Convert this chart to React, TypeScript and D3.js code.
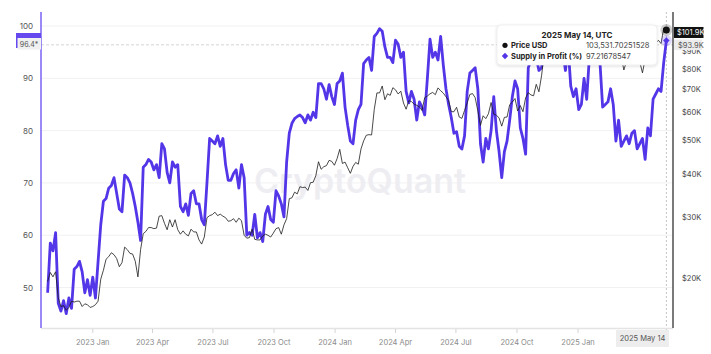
import React from "react";
import * as d3 from "d3";

// series sampled every 4 days starting 2022-10-25, last point 2025-05-14
const START = "2022-10-25";
const STEP_DAYS = 4;

const supplyInProfit = [
  49, 58.5, 57, 60.5, 47, 45.5, 47.5, 45, 48, 46, 53.5, 54, 55, 53, 49, 51.5, 48.5, 52, 48, 55,
  62, 66.5, 67, 69, 69.5, 71, 68, 65, 64.5, 71.5, 71, 70, 68, 65.5, 62.5, 59, 73, 73.5,
  74.5, 74, 72.5, 73.5, 71, 77.5, 76.5, 72, 70, 74, 73, 73.5, 65.5, 64.5, 66, 63.8, 68, 68.5, 66, 66,
  63, 62, 70, 78.5, 78, 77.5, 79, 77, 78.5, 73.5, 70.5, 70.5, 71.8, 72.5, 69, 73.5, 71, 60, 60.5, 60,
  64, 59.5, 60.5, 58.8, 64, 65.5, 63, 62.5, 68.5, 67.5, 66, 63.5, 74, 79.5, 81.4, 82.3, 82.7, 83, 82.5, 81.5,
  83, 82, 83.5, 82.5, 89, 89, 88, 86, 88.8, 86.5, 85, 89, 89.5, 91, 84.5, 81, 78, 77.5, 82, 84,
  85, 92.8, 93.5, 94, 91.5, 98, 98.6, 99.5, 99, 96, 94, 94, 93, 97.3, 96.5, 94, 95, 87.5, 85.3, 87.5,
  86, 82, 85.5, 84.5, 83, 90, 97.5, 94, 95, 93.5, 98, 92.5, 88, 85, 82.5, 79.5, 79.8, 77, 76.5, 79,
  87.5, 91, 91.5, 92, 88, 77.5, 74, 78.5, 76.5, 80, 86.5, 80, 76, 71, 76, 78, 82, 86.5, 89.5, 88,
  80.5, 78.5, 75.5, 92, 93.5, 95, 94, 91.5, 92, 97, 98, 99, 99.5, 99, 98, 97, 95, 91.5, 96,
  88.5, 86.5, 88, 84, 85, 90, 86, 94, 97, 98, 97, 93, 84.5, 85, 85.5, 88, 85, 78, 82, 77,
  78, 79, 77.5, 79.5, 80, 76.5, 77.5, 78.5, 74.5, 80.5, 79, 86, 87, 88, 87.5, 93, 97.2,
];

// BTC price in thousands of USD, same dates
const priceUsdK = [
  19.6, 20.8, 20.2, 20.9, 17.6, 16.6, 16.7, 16.2, 16.5, 17.2,
  17.1, 17.2, 17.2, 16.6, 16.9, 16.8, 16.5, 16.6, 16.8, 17.2,
  19.9, 21.1, 22.7, 23.1, 23.7, 23.4, 22.8, 21.6, 22.2, 24.6,
  24.2, 23.6, 23.5, 22.4, 20.2, 24.2, 26.9, 27.3, 28.0, 28.0,
  27.8, 27.9, 30.2, 30.3, 28.8, 27.6, 29.5, 28.1, 29.5, 27.6,
  26.8, 27.4, 26.8, 26.5, 27.7, 27.2, 27.2, 25.8, 25.1, 26.3,
  29.9, 30.3, 30.5, 31.0, 30.3, 30.6, 30.2, 29.9, 29.2, 29.3,
  29.7, 29.0, 29.8, 29.3, 26.6, 26.1, 26.2, 27.7, 25.9, 25.8,
  25.8, 26.5, 26.8, 26.6, 26.3, 27.0, 27.8, 28.0, 26.8, 28.5,
  29.7, 33.9, 34.1, 35.4, 35.0, 36.7, 36.5, 36.6, 35.8, 37.7,
  37.8, 39.5, 43.3, 41.2, 41.9, 42.2, 43.7, 43.4, 42.3, 44.2,
  47.0, 42.8, 43.2, 41.6, 40.1, 42.0, 43.1, 42.6, 47.1, 49.7,
  51.6, 51.8, 51.7, 61.2, 68.3, 68.3, 71.5, 65.3, 67.9, 67.2,
  70.7, 69.7, 67.8, 69.1, 63.9, 61.3, 64.9, 64.5, 63.4, 62.9,
  62.3, 60.8, 66.2, 66.9, 67.9, 68.5, 67.5, 70.6, 69.3, 68.2,
  66.6, 64.9, 60.3, 60.3, 62.1, 58.2, 57.7, 60.8, 63.9, 67.6,
  68.0, 66.2, 60.7, 55.1, 58.7, 57.6, 59.5, 64.1, 59.4, 58.9,
  57.9, 54.8, 58.1, 58.2, 63.2, 64.3, 65.8, 60.6, 62.8, 60.3,
  66.1, 68.4, 67.4, 67.0, 72.3, 68.8, 76.5, 88.7, 91.0, 92.3,
  97.8, 96.0, 97.3, 97.8, 97.4, 101.4, 106.1, 97.2, 99.4, 93.7,
  97.0, 102.1, 94.6, 96.5, 104.4, 103.7, 102.6, 104.7, 101.4, 96.5,
  95.8, 97.5, 96.6, 96.3, 84.7, 86.1, 86.7, 79.5, 84.3, 86.9,
  86.1, 87.2, 82.5, 83.8, 78.0, 85.3, 84.0, 85.1, 93.9, 95.0,
  96.8, 94.7, 104.7, 103.5,
];

const leftTicks = [50, 60, 70, 80, 90, 100];
const rightTicks = [20000, 30000, 40000, 50000, 60000, 70000, 80000, 90000];
const xTickDates = [
  "2023-01-01", "2023-04-01", "2023-07-01", "2023-10-01",
  "2024-01-01", "2024-04-01", "2024-07-01", "2024-10-01", "2025-01-01",
];

const hoverDate = "2025-05-14";
const hoverTitle = "2025 May 14, UTC";
const hoverPrice = "103,531.70251528";
const hoverSupply = "97.21678547";
const hoverPriceValue = 103531.70251528;
const hoverSupplyValue = 97.21678547;
const crossSupply = 96.4;
const crossPrice = 93900;
const lastPriceTag = 101900;

const PURPLE = "#5336e8";
const FONT = "Inter, 'Liberation Sans', sans-serif";

export default function App() {
  const W = 711;
  const H = 354;
  const left = 41;
  const right = 673;
  const top = 12;
  const bottom = 328;

  const parse = d3.utcParse("%Y-%m-%d");
  const start = parse(START) as Date;
  const dateAt = (i: number) => d3.utcDay.offset(start, i * STEP_DAYS);

  const x = d3
    .scaleUtc()
    .domain([parse("2022-10-15") as Date, parse("2025-05-24") as Date])
    .range([left, right]);
  const yL = d3.scaleLinear().domain([42.26, 102.68]).range([bottom, top]);
  const yP = d3.scaleLog().domain([14400, 116700]).range([bottom, top]);

  const supplyPath = d3
    .line<number>()
    .x((_, i) => x(dateAt(i)))
    .y((d) => yL(d))(supplyInProfit) as string;
  const pricePath = d3
    .line<number>()
    .x((_, i) => x(dateAt(i)))
    .y((d) => yP(d * 1000))(priceUsdK) as string;

  const fmtTick = d3.utcFormat("%Y %b");
  const hx = x(parse(hoverDate) as Date);
  const crossY = yL(crossSupply);
  const sy = yL(hoverSupplyValue);

  return (
    <div style={{ position: "absolute", left: 0, top: 0 }}>
      <svg width={W} height={H} style={{ display: "block", background: "#fff" }} fontFamily={FONT}>
        <defs>
          <filter id="tipShadow" x="-10%" y="-20%" width="120%" height="150%">
            <feDropShadow dx="0" dy="1" stdDeviation="1.5" floodColor="#000" floodOpacity="0.15" />
          </filter>
        </defs>

        {/* grid */}
        {leftTicks.map((t) => (
          <line key={"g" + t} x1={left} x2={right} y1={yL(t)} y2={yL(t)} stroke="#f1f1f3" strokeWidth={1} />
        ))}

        {/* watermark */}
        <text x={360} y={193} textAnchor="middle" fontSize={34} fontWeight={600} fill="#eeeef2">
          CryptoQuant
        </text>

        {/* crosshair */}
        <line x1={left} x2={right} y1={crossY} y2={crossY} stroke="#c9c9c9" strokeDasharray="3,2" strokeWidth={0.8} />
        <line x1={hx} x2={hx} y1={top} y2={bottom + 2} stroke="#b5b5b5" strokeDasharray="2,2" strokeWidth={0.8} />

        {/* series */}
        <path d={supplyPath} fill="none" stroke={PURPLE} strokeWidth={2.8} strokeLinejoin="round" />
        <path d={pricePath} fill="none" stroke="#1c1c1c" strokeWidth={0.8} strokeLinejoin="round" />

        {/* x axis */}
        <line x1={left} x2={right} y1={bottom + 0.5} y2={bottom + 0.5} stroke="#e4e4e4" strokeWidth={1.5} />
        {xTickDates.map((d) => {
          const tx = x(parse(d) as Date);
          return (
            <g key={d}>
              <line x1={tx} x2={tx} y1={bottom + 1} y2={bottom + 5} stroke="#d4d4d4" />
              <text x={tx} y={345} textAnchor="middle" fontSize={7.5} fill="#8a8a8a">
                {fmtTick(parse(d) as Date)}
              </text>
            </g>
          );
        })}
        <rect x={616} y={330} width={53} height={17} fill="#ededed" />
        <text x={642.5} y={341} textAnchor="middle" fontSize={7.5} fill="#555">
          2025 May 14
        </text>

        {/* left axis */}
        <line x1={left} x2={left} y1={top} y2={bottom} stroke="#7058f2" strokeWidth={1.4} />
        {leftTicks.map((t) => (
          <text key={"l" + t} x={33} y={yL(t) + 3} textAnchor="end" fontSize={8} fill="#555">
            {t}
          </text>
        ))}
        <rect x={16} y={33} width={25} height={15} fill="#6548ee" />
        <rect x={17.5} y={38} width={23.5} height={11.5} fill="#f0f0f0" />
        <text x={29} y={crossY + 2.6} textAnchor="middle" fontSize={7} fill="#555">
          96.4*
        </text>

        {/* right axis */}
        <line x1={right} x2={right} y1={top} y2={bottom} stroke="#333" strokeWidth={1.3} />
        {rightTicks.map((t) => (
          <text key={"r" + t} x={682} y={yP(t) + 2.8} fontSize={7.5} fill="#444">
            {"$" + t / 1000 + "K"}
          </text>
        ))}
        <rect x={674} y={yP(crossPrice) - 5.3} width={28} height={10.6} fill="#ececec" />
        <text x={678} y={yP(crossPrice) + 2.7} fontSize={7.5} fill="#555">
          {"$" + (crossPrice / 1000).toFixed(1) + "K"}
        </text>
        <rect x={674} y={yP(lastPriceTag) - 5.5} width={29.5} height={11} fill="#111" />
        <text x={677} y={yP(lastPriceTag) + 2.7} fontSize={7.5} fill="#fff">
          {"$" + (lastPriceTag / 1000).toFixed(1) + "K"}
        </text>

        {/* tooltip */}
        <rect x={497} y={25} width={160} height={40} rx={4} fill="#fff" stroke="#e6e6e6" strokeWidth={0.6} filter="url(#tipShadow)" />
        <text x={577} y={38} textAnchor="middle" fontSize={8} fontWeight={700} fill="#222">
          {hoverTitle}
        </text>
        <circle cx={505} cy={45.3} r={2.6} fill="#111" />
        <text x={511} y={48.2} fontSize={7.5} fontWeight={700} fill="#222">
          Price USD
        </text>
        <text x={586} y={48.2} fontSize={7.5} fill="#444">
          {hoverPrice}
        </text>
        <path d="M505,52.8 L508.2,56 L505,59.2 L501.8,56 Z" fill={PURPLE} />
        <text x={511} y={58.8} fontSize={7.5} fontWeight={700} fill="#222">
          Supply in Profit (%)
        </text>
        <text x={586} y={58.8} fontSize={7.5} fill="#444">
          {hoverSupply}
        </text>

        {/* hover markers */}
        <circle cx={hx} cy={yP(hoverPriceValue)} r={6} fill="#000" opacity={0.18} />
        <circle cx={hx} cy={yP(hoverPriceValue)} r={3.5} fill="#111" />
        <circle cx={hx} cy={sy} r={5.5} fill={PURPLE} opacity={0.2} />
        <path d={`M${hx},${sy - 3.2} L${hx + 3.2},${sy} L${hx},${sy + 3.2} L${hx - 3.2},${sy} Z`} fill={PURPLE} />
      </svg>
    </div>
  );
}
